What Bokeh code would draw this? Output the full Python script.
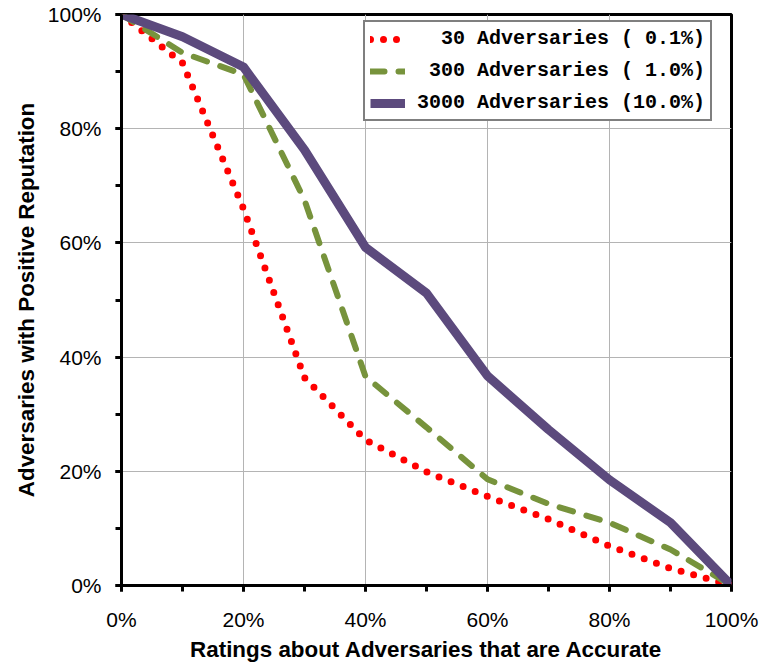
from bokeh.plotting import figure
from bokeh.models import FixedTicker, PrintfTickFormatter, Range1d, Legend, LegendItem
from bokeh.embed import file_html
from bokeh.resources import INLINE

# Percent of ratings about adversaries that are accurate
accuracy = [0, 10, 20, 30, 40, 50, 60, 70, 80, 90, 100]
# Percent of adversaries with positive reputation
adv_30 = [100, 91.5, 66.0, 36.4, 25.5, 19.9, 15.6, 11.6, 6.9, 3.0, 0]
adv_300 = [100, 93.3, 89.5, 67.5, 36.6, 27.7, 18.6, 14.3, 11.0, 6.3, 0]
adv_3000 = [100, 96.1, 90.8, 76.3, 59.2, 51.2, 36.7, 27.3, 18.5, 11.0, 0]

labels = ["\u00a0\u00a030 Adversaries (\u00a00.1%)",
          "\u00a0300 Adversaries (\u00a01.0%)",
          "3000 Adversaries (10.0%)"]
major_ticks = [0, 20, 40, 60, 80, 100]
minor_ticks = [0, 10, 20, 30, 40, 50, 60, 70, 80, 90, 100]

p = figure(width=760, height=667, output_backend="svg", toolbar_location=None,
           x_range=Range1d(0, 100), y_range=Range1d(0, 100),
           min_border_left=121, min_border_right=29, min_border_top=14, min_border_bottom=82)
p.background_fill_color = "white"
p.border_fill_color = "white"
p.outline_line_color = "black"
p.outline_line_width = 3

r1 = p.line(accuracy, adv_30, line_color="#FF0000", line_width=7,
            line_dash="0 13", line_cap="round")
r2 = p.line(accuracy, adv_300, line_color="#77933C", line_width=6,
            line_dash="14 14", line_cap="round")
r3 = p.line(accuracy, adv_3000, line_color="#5C4A7D", line_width=9, line_join="round")

for ax in (p.xaxis[0], p.yaxis[0]):
    ax.ticker = FixedTicker(ticks=major_ticks, minor_ticks=minor_ticks)
    ax.formatter = PrintfTickFormatter(format="%d%%")
    ax.axis_line_color = "black"
    ax.axis_line_width = 3
    ax.major_tick_line_color = "black"
    ax.major_tick_line_width = 3
    ax.major_tick_in = 0
    ax.major_tick_out = 6
    ax.minor_tick_line_color = "black"
    ax.minor_tick_line_width = 3
    ax.minor_tick_in = 0
    ax.minor_tick_out = 6
    ax.major_label_text_font = "Liberation Sans"
    ax.major_label_text_font_size = "21px"
    ax.major_label_text_color = "black"
    ax.axis_label_text_font = "Liberation Sans"
    ax.axis_label_text_font_size = "22.4px"
    ax.axis_label_text_font_style = "bold"
    ax.axis_label_text_color = "black"

p.xaxis.axis_label = "Ratings about Adversaries that are Accurate"
p.yaxis.axis_label = "Adversaries with Positive Reputation"
p.xaxis.major_label_standoff = 16
p.yaxis.major_label_standoff = 14
p.xaxis.axis_label_standoff = 3
p.yaxis.axis_label_standoff = 6

p.xgrid.ticker = FixedTicker(ticks=major_ticks)
p.ygrid.ticker = FixedTicker(ticks=major_ticks)
p.xgrid.grid_line_color = "#B4B4B4"
p.ygrid.grid_line_color = "#B4B4B4"
p.xgrid.grid_line_width = 1
p.ygrid.grid_line_width = 1

legend = Legend(items=[LegendItem(label=labels[0], renderers=[r1]),
                       LegendItem(label=labels[1], renderers=[r2]),
                       LegendItem(label=labels[2], renderers=[r3])],
                location=(242, 464))
legend.label_text_font = "Liberation Mono"
legend.label_text_font_style = "bold"
legend.label_text_font_size = "20px"
legend.label_text_color = "black"
legend.border_line_color = "black"
legend.border_line_width = 2
legend.background_fill_color = "white"
legend.background_fill_alpha = 1
legend.padding = 5
legend.spacing = 9
legend.margin = 0
legend.glyph_width = 35
legend.glyph_height = 20
legend.label_height = 20
legend.label_standoff = 12
p.add_layout(legend, "center")

open("out.html", "w").write(file_html(p, INLINE))
